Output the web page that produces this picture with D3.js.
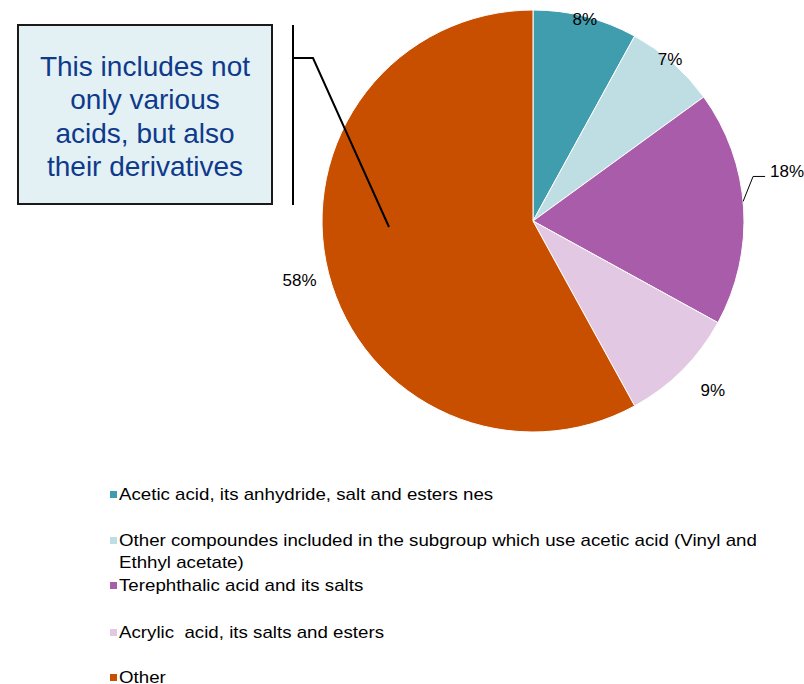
<!DOCTYPE html>
<html>
<head>
<meta charset="utf-8">
<script src="https://cdn.jsdelivr.net/npm/d3@7"></script>
<style>
  body { margin: 0; background: #fff; }
  svg { display: block; font-family: Arial, "Liberation Sans", sans-serif; }
</style>
</head>
<body>
<svg id="chart" width="804" height="684"></svg>
<script>
// slice data, clockwise from 12 o'clock
const categories = [
  'Acetic acid, its anhydride, salt and esters nes',
  'Other compoundes included in the subgroup which use acetic acid (Vinyl and Ethhyl acetate)',
  'Terephthalic acid and its salts',
  'Acrylic  acid, its salts and esters',
  'Other'
];
const shares = [8, 7, 18, 9, 58];
const sliceLabels = ['8%', '7%', '18%', '9%', '58%'];
const colors = ['#3f9dae', '#bedee3', '#a95caa', '#e3c8e3', '#c94f00'];
const noteLines = ['This includes not', 'only various', 'acids, but also', 'their derivatives'];

const svg = d3.select('#chart');
const cx = 533, cy = 221, radius = 211;

const pie = d3.pie().sort(null).value(d => d)(shares);
const arc = d3.arc().innerRadius(0).outerRadius(radius);

const g = svg.append('g').attr('transform', `translate(${cx},${cy})`);

g.selectAll('path.slice')
  .data(pie)
  .enter()
  .append('path')
  .attr('class', 'slice')
  .attr('d', arc)
  .attr('fill', (d, i) => colors[i])
  .attr('stroke', '#fff')
  .attr('stroke-width', 1);

// label distance from centre, per slice (Excel placed them by hand)
const labelR = [208, 212, null, 247, 241];
const labelShift = [0, -0.02, 0, -0.03, 0];
const mid = d => (d.startAngle + d.endAngle) / 2;

pie.forEach((d, i) => {
  if (labelR[i] == null) return;
  const a = mid(d) + labelShift[i];
  g.append('text')
    .attr('x', Math.sin(a) * labelR[i])
    .attr('y', -Math.cos(a) * labelR[i])
    .attr('text-anchor', 'middle')
    .attr('dominant-baseline', 'central')
    .style('font-size', '17px')
    .attr('fill', '#000')
    .text(sliceLabels[i]);
});

// 18% label sits outside with a leader line
{
  const d = pie[2];
  const a = mid(d) - 0.03;
  const x0 = Math.sin(a) * radius, y0 = -Math.cos(a) * radius;
  const x1 = x0 + 10, y1 = y0 - 25;
  g.append('polyline')
    .attr('points', `${x0},${y0} ${x1},${y1} ${x1 + 12},${y1}`)
    .attr('fill', 'none')
    .attr('stroke', '#000')
    .attr('stroke-width', 1);
  g.append('text')
    .attr('x', x1 + 17)
    .attr('y', y1 - 5)
    .attr('dominant-baseline', 'central')
    .style('font-size', '17px')
    .attr('fill', '#000')
    .text(sliceLabels[2]);
}

// callout box
svg.append('rect')
  .attr('x', 18).attr('y', 25)
  .attr('width', 254).attr('height', 179)
  .attr('fill', '#e3f1f4')
  .attr('stroke', '#1a1a1a')
  .attr('stroke-width', 2);

svg.append('text')
  .attr('text-anchor', 'middle')
  .attr('fill', '#0f3a8c')
  .style('font-size', '28px')
  .selectAll('tspan')
  .data(noteLines)
  .enter()
  .append('tspan')
  .attr('x', 145)
  .attr('y', (d, i) => 76 + i * 33.3)
  .text(d => d);

// bracket + pointer into the Other slice
svg.append('line')
  .attr('x1', 293).attr('x2', 293)
  .attr('y1', 25).attr('y2', 205)
  .attr('stroke', '#000').attr('stroke-width', 2);

svg.append('polyline')
  .attr('points', '293,58 313,58 389,227')
  .attr('fill', 'none')
  .attr('stroke', '#000')
  .attr('stroke-width', 2);

// legend
const legendRows = [
  { i: 0, lines: [categories[0]], y: 494 },
  { i: 1, lines: ['Other compoundes included in the subgroup which use acetic acid (Vinyl and', 'Ethhyl acetate)'], y: 540 },
  { i: 2, lines: [categories[2]], y: 585 },
  { i: 3, lines: [categories[3]], y: 632 },
  { i: 4, lines: [categories[4]], y: 677 }
];

const legend = svg.append('g');
legendRows.forEach(r => {
  legend.append('rect')
    .attr('x', 110).attr('y', r.y - 3)
    .attr('width', 7).attr('height', 7)
    .attr('fill', colors[r.i]);
  r.lines.forEach((t, k) => {
    const txt = legend.append('text')
      .attr('x', 119)
      .attr('y', r.y + k * 22)
      .attr('dominant-baseline', 'central')
      .style('font-size', '17px')
      .style('white-space', 'pre')
      .attr('fill', '#000')
      .text(t);
    // the source font runs a little wider than Liberation Sans
    const w = txt.node().getComputedTextLength();
    txt.attr('textLength', w * 1.1).attr('lengthAdjust', 'spacingAndGlyphs');
  });
});
</script>
</body>
</html>
